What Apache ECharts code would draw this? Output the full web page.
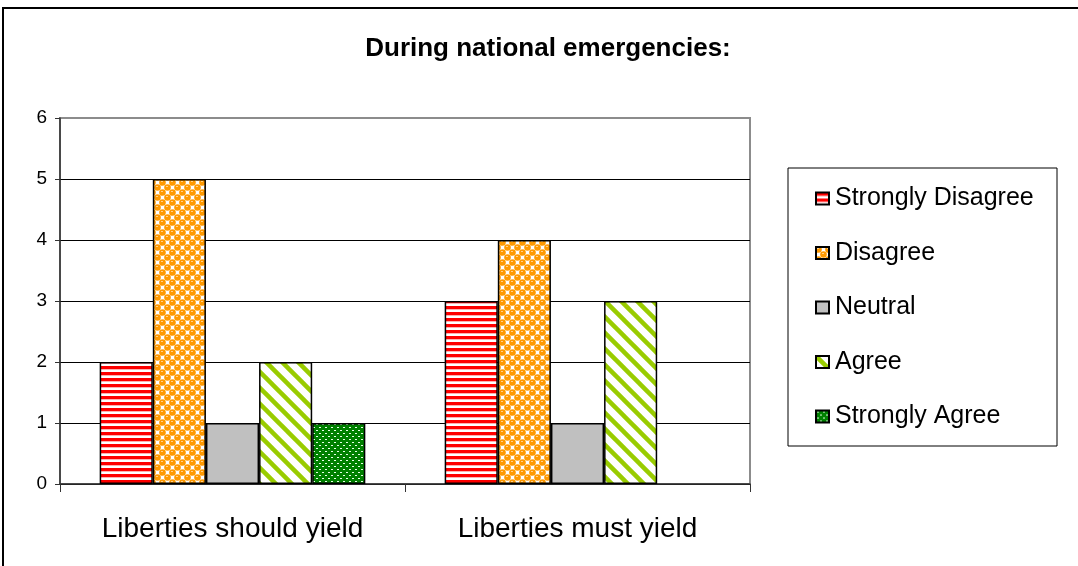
<!DOCTYPE html>
<html>
<head>
<meta charset="utf-8">
<script src="https://cdn.jsdelivr.net/npm/echarts@6/dist/echarts.min.js"></script>
<style>
  html, body { margin: 0; padding: 0; background: #ffffff; }
  #chart { width: 1078px; height: 566px; }
</style>
</head>
<body>
<div id="chart"></div>
<script>
const titleText = 'During national emergencies:';
const categories = ['Liberties should yield', 'Liberties must yield'];
const seriesNames = ['Strongly Disagree', 'Disagree', 'Neutral', 'Agree', 'Strongly Agree'];
const stronglyDisagree = [2, 3];
const disagree = [5, 4];
const neutral = [1, 1];
const agree = [2, 3];
const stronglyAgree = [1, null];
const yTicks = { min: 0, max: 6, interval: 1 };

function makePattern(w, h, draw) {
  const c = document.createElement('canvas');
  c.width = w; c.height = h;
  const ctx = c.getContext('2d');
  draw(ctx, w, h);
  return { image: c, repeat: 'repeat' };
}

const redPattern = makePattern(6, 6, (ctx) => {
  ctx.fillStyle = '#ffffff'; ctx.fillRect(0, 0, 6, 6);
  ctx.fillStyle = '#ff0000'; ctx.fillRect(0, 0, 6, 3);
  ctx.fillStyle = '#ffb0b0'; ctx.fillRect(0, 3, 6, 1);
});

const orangePattern = makePattern(10, 10, (ctx) => {
  ctx.fillStyle = '#ffffff'; ctx.fillRect(0, 0, 10, 10);
  ctx.fillStyle = '#ff9900';
  const pts = [[2.5, 2.5], [7.5, 7.5], [7.5, -2.5], [-2.5, 7.5], [12.5, 2.5], [2.5, 12.5]];
  pts.forEach(([x, y]) => { ctx.beginPath(); ctx.arc(x, y, 3.3, 0, Math.PI * 2); ctx.fill(); });
  ctx.fillStyle = '#ffd08a';
  ctx.fillRect(1, 1, 2, 1); ctx.fillRect(6, 6, 2, 1);
});

const agreePattern = makePattern(16, 16, (ctx) => {
  ctx.fillStyle = '#ffffff'; ctx.fillRect(0, 0, 16, 16);
  ctx.strokeStyle = '#99cc00'; ctx.lineWidth = 4.5;
  for (let k = -16; k <= 16; k += 16) {
    ctx.beginPath(); ctx.moveTo(k - 2, -2); ctx.lineTo(k + 18, 18); ctx.stroke();
  }
});

const greenPattern = makePattern(6, 6, (ctx) => {
  ctx.fillStyle = '#008000'; ctx.fillRect(0, 0, 6, 6);
  ctx.fillStyle = '#e8ffe8';
  ctx.fillRect(1, 1, 2, 1); ctx.fillRect(4, 4, 2, 1);
});

const fills = [redPattern, orangePattern, '#c0c0c0', agreePattern, greenPattern];
const values = [stronglyDisagree, disagree, neutral, agree, stronglyAgree];

const chart = echarts.init(document.getElementById('chart'), null, { renderer: 'canvas' });

const series = seriesNames.map((name, i) => ({
  name: name,
  type: 'bar',
  data: values[i],
  barGap: '0%',
  barCategoryGap: '23%',
  itemStyle: { color: fills[i], borderColor: '#000000', borderWidth: 1.5 },
  emphasis: { disabled: true },
  animation: false
}));

const splitColors = ['#000000', '#000000', '#000000', '#000000', '#000000', '#000000', '#8c8c8c'];

chart.setOption({
  animation: false,
  backgroundColor: '#ffffff',
  textStyle: { fontFamily: 'Liberation Sans, Arial, sans-serif' },
  title: {
    text: titleText,
    left: 543,
    top: 31,
    textAlign: 'center',
    textStyle: { fontFamily: 'Liberation Sans, Arial, sans-serif', fontWeight: 'bold', fontSize: 26, color: '#000000' }
  },
  graphic: [{
    type: 'rect',
    shape: { x: 3, y: 8, width: 1200, height: 1000 },
    style: { fill: 'none', stroke: '#000000', lineWidth: 2 },
    silent: true,
    z: 100
  }],
  grid: {
    left: 60, right: 328, top: 118, bottom: 82,
    show: true, borderColor: '#8c8c8c', borderWidth: 2, backgroundColor: 'transparent'
  },
  legend: {
    orient: 'vertical',
    left: 788,
    top: 168,
    padding: [18, 20, 17, 27],
    itemGap: 29.5,
    itemWidth: 13,
    itemHeight: 12,
    icon: 'rect',
    borderColor: '#000000',
    borderWidth: 1,
    borderRadius: 0,
    selectedMode: false,
    textStyle: { fontSize: 25, color: '#000000', lineHeight: 22, width: 202, padding: [0, 0, 0, 1] },
    data: seriesNames
  },
  xAxis: {
    type: 'category',
    data: categories,
    boundaryGap: true,
    axisLine: { show: true, lineStyle: { color: '#333333', width: 1.5 } },
    axisTick: { show: true, length: 8, alignWithLabel: false, lineStyle: { color: '#333333' } },
    axisLabel: { fontSize: 28, color: '#000000', margin: 31 },
    splitLine: { show: false }
  },
  yAxis: {
    type: 'value',
    min: yTicks.min, max: yTicks.max, interval: yTicks.interval,
    axisLine: { show: true, lineStyle: { color: '#333333', width: 1.5 } },
    axisTick: { show: true, length: 5, lineStyle: { color: '#333333' } },
    axisLabel: { fontSize: 19, color: '#000000', margin: 13 },
    splitLine: { show: true, lineStyle: { color: splitColors, width: 1 } }
  },
  series: series
});
</script>
</body>
</html>
